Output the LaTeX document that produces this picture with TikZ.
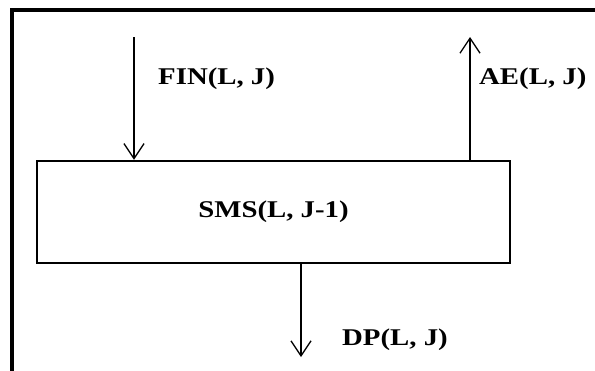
\documentclass[tikz,border=0pt]{standalone}
\usepackage{fontspec}
\usepackage{graphicx}
\setmainfont{Liberation Serif}
\usetikzlibrary{arrows.meta}
\newcommand{\lbl}[1]{\scalebox{1.2}[1]{\fontsize{24}{28}\selectfont\bfseries #1}}
\tikzset{
  frameline/.style={line width=3.5pt},
  procbox/.style={draw, line width=2.5pt, minimum width=473pt, minimum height=102pt, inner sep=0pt},
  flow/.style={line width=1.3pt, -{Straight Barb[length=15pt,width=20pt,line width=1.3pt]}},
  flowlabel/.style={anchor=west, inner sep=0pt},
}
\begin{document}
\begin{tikzpicture}[x=1pt,y=-1pt]
  \useasboundingbox (0,0) rectangle (595,370);
  % open frame: top and left edges only
  \coordinate (fbl) at (12,380);
  \coordinate (ftl) at (12,10);
  \coordinate (ftr) at (605,10);
  \draw[frameline] (fbl) -- (ftl) -- (ftr);

  % storage block
  \node[procbox] (sms) at (273.5,212) {\lbl{SMS(L, J-1)}};

  % inflow
  \coordinate (finA) at (134,37);
  \draw[flow] (finA) -- (finA |- sms.north);
  \node[flowlabel] (finL) at (158,79) {\lbl{FIN(L, J)}};

  % evaporation
  \coordinate (aeB) at (470,37);
  \draw[flow] (aeB |- sms.north) -- (aeB);
  \node[flowlabel] (aeL) at (479,79) {\lbl{AE(L, J)}};

  % deep percolation
  \coordinate (dpB) at (301,357);
  \draw[flow] (dpB |- sms.south) -- (dpB);
  \node[flowlabel] (dpL) at (342,340) {\lbl{DP(L, J)}};
\end{tikzpicture}
\end{document}
